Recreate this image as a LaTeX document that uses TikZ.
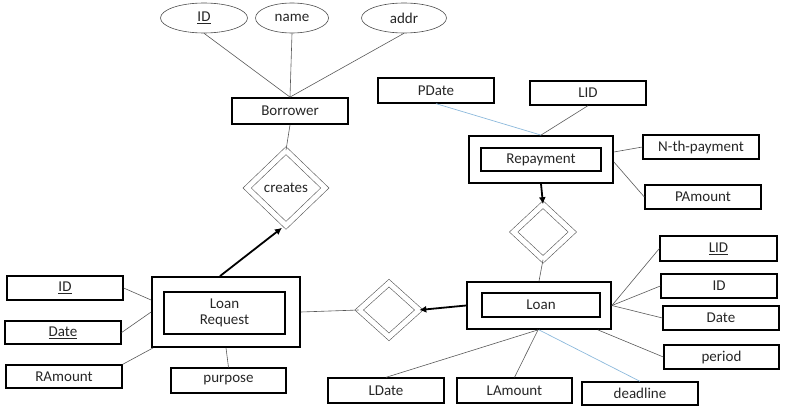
\documentclass[tikz,border=0pt]{standalone}
\usepackage{fontspec}
\setmainfont{Carlito}
\usetikzlibrary{shapes.geometric,arrows.meta,calc}
\definecolor{lblue}{RGB}{140,185,220}
\begin{document}
\begin{tikzpicture}[x=1pt,y=-1pt,
 txt/.style={font=\fontsize{15}{16}\selectfont, text=black!85},
 attrbox/.style={txt,draw=black, line width=1.3pt, minimum height=24pt, minimum width=116pt, inner sep=0pt},
 ellattr/.style={txt,ellipse, draw=black!70, line width=0.6pt, minimum height=30pt, inner sep=0pt},
 entout/.style={draw=black, line width=1.8pt, inner sep=0pt},
 entin/.style={txt,draw=black, line width=1.5pt, inner sep=0pt},
 relbox/.style={txt,diamond, draw=black!65, double, double distance=5pt, line width=0.6pt, inner sep=0pt},
 connline/.style={draw=black!65, line width=0.6pt},
 blueline/.style={draw=lblue, line width=0.7pt},
 idarrow/.style={draw=black, line width=1.8pt, -{Latex[length=7pt,width=7pt]}}
]
\useasboundingbox (0,0) rectangle (787,412);
% ellipses
\node[ellattr, minimum width=87pt] (eid) at (204,18) {\underline{ID}};
\node[ellattr, minimum width=73pt] (ename) at (292,18) {name};
\node[ellattr, minimum width=85pt] (eaddr) at (404,18) {addr};
% borrower
\node[entin, line width=1.8pt, minimum width=116pt, minimum height=26pt] (borrower) at (290,111) {Borrower};
% creates
\node[relbox, minimum width=78pt, minimum height=75pt] (creates) at (286,188) {creates};
% loan request
\node[entout, minimum width=148pt, minimum height=70pt] (lrout) at (226,312) {};
\node[entin, minimum width=121pt, minimum height=42pt, align=center] (lrin) at (224.5,313) {Loan\\Request};
\node[attrbox] (lid1) at (65,288) {\underline{ID}};
\node[attrbox, minimum height=23pt] (date1) at (63,332.5) {\underline{Date}};
\node[attrbox, minimum height=23pt] (ramount) at (64,376.5) {RAmount};
\node[attrbox, minimum width=115pt, minimum height=25pt] (purpose) at (228.5,380.5) {purpose};
% left diamond
\node[relbox, minimum width=60pt, minimum height=54pt] (dl) at (389,310) {};
% loan
\node[entout, minimum width=144pt, minimum height=47pt] (loanout) at (539,305.5) {};
\node[entin, minimum width=118pt, minimum height=24pt] (loanin) at (541,305) {Loan};
% upper diamond
\node[relbox, minimum width=59pt, minimum height=55pt] (dr) at (543,232) {};
% repayment
\node[entout, minimum width=144pt, minimum height=47pt] (repout) at (541,159.5) {};
\node[entin, minimum width=120pt, minimum height=23pt] (repin) at (541,159.5) {Repayment};
\node[attrbox, minimum height=25pt] (pdate) at (436,90.5) {PDate};
\node[attrbox] (lidtop) at (588,93) {LID};
\node[attrbox] (nth) at (701,147) {N-th-payment};
\node[attrbox] (pamount) at (703,197) {PAmount};
% loan attributes
\node[attrbox, minimum width=117pt, minimum height=25pt] (lid2) at (718.5,248.5) {\underline{LID}};
\node[attrbox] (id2) at (719,286) {ID};
\node[attrbox] (date2) at (721,318) {Date};
\node[attrbox, minimum width=115pt] (period) at (721.5,357) {period};
\node[attrbox, minimum height=25pt] (ldate) at (386,390.5) {LDate};
\node[attrbox, minimum width=115pt, minimum height=25pt] (lamount) at (514.5,390.5) {LAmount};
\node[attrbox, minimum height=23pt] (deadline) at (640,393.5) {deadline};
% connectors
\draw[connline] (eid.south) -- (borrower.north);
\draw[connline] (ename.south) -- (borrower.north);
\draw[connline] (eaddr.south) -- (borrower.north);
\draw[connline] (borrower.south) -- (creates.north);
\draw[idarrow] ($(lrout.north)+(-6,0)$) -- ($(creates.south)+(-4,2)$);
\draw[connline] (lid1.east) -- ($(lrout.west)+(0,-12)$);
\draw[connline] (date1.east) -- (lrout.west);
\draw[connline] (ramount.north east) -- ($(lrout.south west)+(2,0)$);
\draw[connline] (purpose.north) -- (lrout.south);
\draw[connline] (lrout.east) -- (dl.west);
\draw[idarrow] (loanout.west) -- (dl.east);
\draw[idarrow] (repout.south) -- (dr.north);
\draw[connline] (dr.south) -- (loanout.north);
\draw[blueline] (pdate.south) -- (repout.north);
\draw[connline] (lidtop.south) -- (repout.north);
\draw[connline] (nth.west) -- ($(repout.east)+(0,-7.5)$);
\draw[connline] (pamount.west) -- ($(repout.east)+(0,2.5)$);
\draw[connline] (lid2.west) -- (loanout.east);
\draw[connline] (id2.west) -- (loanout.east);
\draw[connline] (date2.west) -- (loanout.east);
\draw[connline] (period.west) -- ($(loanout.south east)+(-14,0)$);
\draw[connline] (ldate.north) -- ($(loanout.south)+(-1,0)$);
\draw[connline] (lamount.north) -- ($(loanout.south)+(-1,0)$);
\draw[blueline] (deadline.north) -- (loanout.south);
\end{tikzpicture}
\end{document}
